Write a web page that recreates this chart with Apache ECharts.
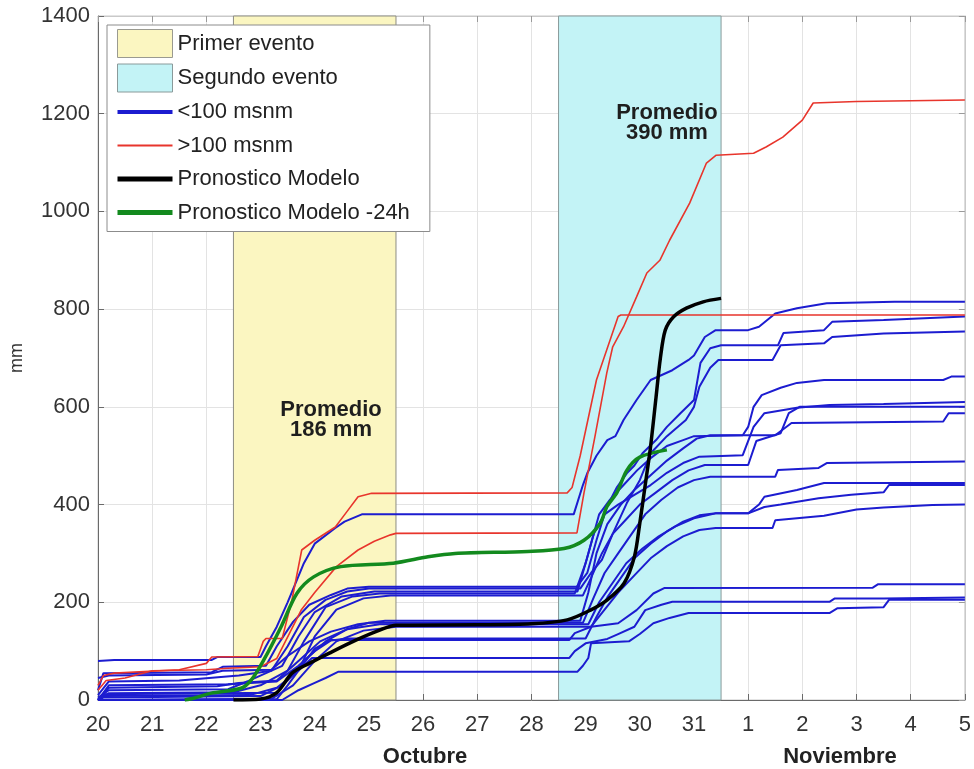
<!DOCTYPE html>
<html>
<head>
<meta charset="utf-8">
<script src="https://cdn.jsdelivr.net/npm/echarts@6/dist/echarts.min.js"></script>
<style>
html,body{margin:0;padding:0;background:#fff;}
#chart{width:974px;height:769px;}
</style>
</head>
<body>
<div id="chart"></div>
<script>
// ---- Data (x = days since 20 Oct 00:00, y = accumulated mm) ----
const dayLabels = ['20','21','22','23','24','25','26','27','28','29','30','31','1','2','3','4','5'];
const monthLabels = ['Octubre', 'Noviembre'];
const evento1 = [2.5, 5.5];
const evento2 = [8.5, 11.5];
const promedio1 = {text: 'Promedio\n186 mm', x: 4.3, y: 573};
const promedio2 = {text: 'Promedio\n390 mm', x: 10.5, y: 1181};

const blue01 = [[0,80],[0.3,82],[2.1,82],[2.2,88],[3.0,88],[3.1,110],[3.3,150],[3.5,200],[3.8,280],[4.0,320],[4.38,352],[4.55,365],[4.87,380],[8.78,380],[8.95,440],[9.03,464],[9.2,500],[9.4,532],[9.55,540],[9.7,573],[9.94,614],[10.2,655],[10.6,675],[10.9,696],[11.0,705],[11.2,743],[11.4,757],[12.0,757],[12.2,764],[12.5,791],[12.9,802],[13.45,812],[14.7,815],[16,815]];
const blue02 = [[0,20],[0.1,55],[2.1,57],[2.3,68],[3.1,70],[3.3,110],[3.6,160],[3.9,195],[4.3,215],[4.6,228],[5.0,232],[8.84,232],[9.03,260],[9.2,327],[9.39,395],[9.58,436],[9.76,464],[9.9,480],[10.05,505],[10.3,532],[10.5,559],[10.75,587],[11.0,614],[11.12,690],[11.3,720],[11.5,726],[12.55,726],[12.65,751],[13.4,757],[13.55,774],[14.5,778],[16,785]];
const blue03 = [[0,10],[0.2,38],[1.5,40],[2.6,50],[3.2,60],[3.5,110],[3.8,170],[4.2,205],[4.6,222],[5.0,228],[8.9,228],[9.1,260],[9.3,287],[9.5,340],[9.76,403],[10.0,450],[10.2,505],[10.5,540],[10.85,573],[11.0,600],[11.1,641],[11.3,680],[11.45,696],[12.45,696],[12.6,726],[13.4,730],[13.55,743],[14.5,750],[16,754]];
const blue04 = [[0,5],[0.2,20],[2.4,22],[2.8,40],[3.4,70],[3.7,130],[4.0,180],[4.5,212],[5.1,222],[8.85,222],[9.05,300],[9.25,380],[9.45,410],[9.7,440],[9.95,470],[10.2,495],[10.5,520],[10.8,532],[11.0,540],[11.9,542],[12.0,559],[12.1,600],[12.25,624],[12.6,639],[12.9,649],[13.4,655],[15.6,655],[15.75,662],[16,662]];
const blue05 = [[0,45],[0.2,50],[2.0,52],[2.3,60],[3.2,62],[3.5,90],[3.9,120],[4.3,140],[4.8,155],[5.3,162],[8.9,162],[9.05,220],[9.2,300],[9.4,360],[9.65,400],[9.9,430],[10.2,460],[10.5,490],[10.8,515],[11.05,535],[11.3,542],[12.5,542],[12.8,567],[15.6,570],[15.7,587],[16,587]];
const blue06 = [[0,0],[0.2,14],[2.5,16],[3.0,30],[3.5,60],[3.8,120],[4.2,190],[4.7,212],[5.2,218],[8.8,218],[9.0,280],[9.15,340],[9.35,380],[9.6,400],[9.9,420],[10.2,440],[10.5,465],[10.8,485],[11.1,498],[11.9,501],[12.1,559],[12.3,587],[12.9,598],[13.5,604],[14.5,606],[16,610]];
const blue07 = [[0,0],[0.1,8],[2.8,10],[3.3,25],[3.7,60],[4.0,130],[4.4,185],[4.9,208],[5.4,214],[8.95,214],[9.1,250],[9.3,300],[9.5,340],[9.75,370],[10.0,400],[10.3,425],[10.6,450],[10.9,470],[11.2,481],[12.0,481],[12.15,530],[12.6,546],[12.75,587],[12.95,600],[16,600]];
const blue08 = [[0,0],[0.1,5],[3.0,8],[3.4,30],[3.8,80],[4.2,120],[4.6,145],[5.0,158],[8.95,158],[9.15,210],[9.35,260],[9.6,300],[9.85,340],[10.1,380],[10.4,410],[10.7,435],[11.0,450],[11.3,457],[12.5,457],[12.55,471],[13.3,475],[13.45,485],[16,488]];
const blue09 = [[0,0],[0.2,30],[2.4,32],[3.3,38],[3.7,70],[4.0,100],[4.3,122],[4.6,126],[9.0,126],[9.2,170],[9.4,210],[9.65,250],[9.9,290],[10.2,320],[10.5,345],[10.8,365],[11.1,378],[11.4,382],[12.0,382],[12.2,400],[12.3,416],[12.9,430],[13.4,444],[16,444]];
const blue10 = [[0,0],[0.2,25],[2.2,28],[2.6,35],[3.3,40],[3.7,80],[4.1,120],[4.6,145],[5.2,155],[9.05,155],[9.25,200],[9.5,240],[9.75,280],[10.05,310],[10.35,335],[10.65,355],[11.0,372],[11.4,382],[12.0,382],[12.3,395],[12.6,400],[13.3,413],[13.9,420],[14.5,425],[14.6,440],[16,440]];
const blue11 = [[0,0],[3.2,2],[3.6,30],[4.0,80],[4.4,120],[4.9,142],[5.5,150],[9.1,150],[9.35,185],[9.6,220],[9.9,255],[10.2,290],[10.5,315],[10.8,335],[11.1,348],[11.4,352],[12.45,352],[12.5,368],[13.4,377],[14.0,390],[14.5,394],[15.4,399],[16,400]];
const blue12 = [[0,2],[0.1,12],[3.3,15],[3.5,40],[3.8,75],[4.0,105],[4.3,123],[8.7,123],[8.8,137],[9.1,150],[9.6,157],[9.94,184],[10.25,218],[10.45,229],[14.3,230],[14.4,237],[16,237]];
const blue13 = [[0,0],[3.3,2],[3.5,30],[3.7,60],[3.95,86],[8.7,86],[8.8,100],[9.0,116],[9.4,125],[9.6,135],[9.9,150],[10.1,184],[10.4,195],[10.6,201],[13.5,201],[13.6,208],[14.5,208],[16,210]];
const blue14 = [[0,0],[3.4,0],[3.7,20],[4.0,35],[4.2,45],[4.44,58],[8.85,58],[8.95,70],[9.05,86],[9.1,116],[9.8,120],[10.0,135],[10.25,157],[10.55,168],[10.9,178],[13.5,178],[13.65,188],[14.5,190],[14.6,205],[16,205]];

const redA = [[0,30],[0.1,50],[0.3,55],[1.5,62],[2.0,75],[2.1,88],[2.95,89],[3.05,120],[3.1,126],[3.4,126],[3.58,205],[3.76,307],[4.0,327],[4.38,354],[4.57,382],[4.8,416],[5.05,423],[8.66,424],[8.75,435],[8.9,500],[9.2,655],[9.4,720],[9.6,785],[9.65,788],[16,788]];
const redB = [[0,20],[0.15,40],[0.5,45],[1.0,60],[2.0,62],[2.4,65],[3.0,68],[3.3,85],[3.55,140],[3.75,184],[4.0,220],[4.4,273],[4.8,307],[5.1,325],[5.4,338],[5.5,341],[8.84,342],[8.97,424],[9.17,538],[9.39,669],[9.5,723],[9.7,764],[9.94,825],[10.13,874],[10.37,900],[10.55,941],[10.92,1017],[11.23,1099],[11.41,1115],[12.1,1119],[12.33,1132],[12.64,1152],[13.0,1187],[13.2,1222],[14.0,1225],[16,1228]];
const modelo = [[2.5,0],[3.0,2],[3.3,15],[3.58,55],[3.9,75],[4.27,96],[4.77,123],[5.2,143],[5.5,153],[7.0,154],[8.0,156],[8.66,164],[9.09,184],[9.4,205],[9.71,239],[9.9,293],[10.0,362],[10.1,440],[10.2,520],[10.3,620],[10.38,700],[10.47,757],[10.62,784],[10.86,802],[11.17,815],[11.5,822]];
const modelo24 = [[1.6,0],[1.78,4],[2.09,14],[2.64,24],[2.83,41],[3.06,82],[3.38,150],[3.67,218],[3.98,252],[4.48,273],[5.45,280],[6.09,293],[6.59,300],[7.93,304],[8.6,310],[8.97,327],[9.27,362],[9.39,395],[9.58,425],[9.76,470],[10.0,497],[10.5,512]];

const blueLines = [blue01,blue02,blue03,blue04,blue05,blue06,blue07,blue08,blue09,blue10,blue11,blue12,blue13,blue14];
const redLines = [redA, redB];

// ---- Styles ----
const FONT = '"Liberation Sans", Arial, Helvetica, sans-serif';
const C_BLUE = '#1c1cd0', C_RED = '#e8352c', C_BLACK = '#000000', C_GREEN = '#138a1e';
const C_YEL = '#fbf6c1', C_CYA = '#c3f3f6';

// legend line icon: horizontal bar of given thickness inside a 55x28 box
function barIcon(h) {
  const a = (14 - h / 2).toFixed(2), b = (14 + h / 2).toFixed(2);
  return 'path://M0,0L0.01,0L0.01,0.01Z M0,' + a + 'L55,' + a + 'L55,' + b + 'L0,' + b + 'Z M54.99,28L55,28L55,27.99Z';
}

const chart = echarts.init(document.getElementById('chart'), null, {renderer: 'canvas'});

const series = [];
series.push({
  name: 'Primer evento', type: 'line', data: [], symbol: 'none',
  markArea: {silent: true, itemStyle: {color: C_YEL, borderColor: '#8d8d84', borderWidth: 1},
    data: [[{xAxis: evento1[0]}, {xAxis: evento1[1]}]]},
  markPoint: {silent: true, symbol: 'rect', symbolSize: 1, itemStyle: {color: 'rgba(0,0,0,0)'},
    label: {show: true, position: 'inside', formatter: promedio1.text, fontFamily: FONT, fontSize: 22, fontWeight: 'bold', color: '#1e1e1e', lineHeight: 20, align: 'center'},
    data: [{coord: [promedio1.x, promedio1.y]}]}
});
series.push({
  name: 'Segundo evento', type: 'line', data: [], symbol: 'none',
  markArea: {silent: true, itemStyle: {color: C_CYA, borderColor: '#8a9a9a', borderWidth: 1},
    data: [[{xAxis: evento2[0]}, {xAxis: evento2[1]}]]},
  markPoint: {silent: true, symbol: 'rect', symbolSize: 1, itemStyle: {color: 'rgba(0,0,0,0)'},
    label: {show: true, position: 'inside', formatter: promedio2.text, fontFamily: FONT, fontSize: 22, fontWeight: 'bold', color: '#1e1e1e', lineHeight: 20, align: 'center'},
    data: [{coord: [promedio2.x, promedio2.y]}]}
});
blueLines.forEach(d => series.push({name: '<100 msnm', type: 'line', data: d, symbol: 'none', showSymbol: false, color: C_BLUE,
  lineStyle: {color: C_BLUE, width: 2}, z: 3}));
redLines.forEach(d => series.push({name: '>100 msnm', type: 'line', data: d, symbol: 'none', showSymbol: false, color: C_RED,
  lineStyle: {color: C_RED, width: 1.6}, z: 4}));
series.push({name: 'Pronostico Modelo -24h', type: 'line', data: modelo24, symbol: 'none', showSymbol: false, color: C_GREEN, smooth: 0.3,
  lineStyle: {color: C_GREEN, width: 3.5}, z: 5});
series.push({name: 'Pronostico Modelo', type: 'line', data: modelo, symbol: 'none', showSymbol: false, color: C_BLACK, smooth: 0.3,
  lineStyle: {color: C_BLACK, width: 3.5}, z: 6});

const option = {
  animation: false,
  backgroundColor: '#ffffff',
  grid: {left: 98, right: 3, top: 16, bottom: 69, show: true, borderColor: '#c9c9c9', borderWidth: 1, backgroundColor: '#fff'},
  xAxis: [{
    type: 'value', min: 0, max: 16, interval: 1,
    axisLine: {show: true, onZero: false, lineStyle: {color: '#6a6a6a', width: 1}},
    axisTick: {show: true, inside: true, length: 6, lineStyle: {color: '#6a6a6a'}},
    axisLabel: {formatter: v => dayLabels[Math.round(v)], fontFamily: FONT, fontSize: 22, color: '#333', margin: 14},
    splitLine: {show: true, lineStyle: {color: '#e3e3e3', width: 1}}
  }, {
    type: 'value', position: 'top', min: 0, max: 16, interval: 1,
    axisLine: {show: true, onZero: false, lineStyle: {color: '#c9c9c9'}},
    axisTick: {show: true, inside: true, length: 6, lineStyle: {color: '#9a9a9a'}},
    axisLabel: {show: false}, splitLine: {show: false}
  }],
  yAxis: [{
    type: 'value', min: 0, max: 1400, interval: 200,
    name: 'mm', nameLocation: 'middle', nameGap: 72, nameRotate: 90,
    nameTextStyle: {fontFamily: FONT, fontSize: 18, color: '#333'},
    axisLine: {show: true, onZero: false, lineStyle: {color: '#6a6a6a', width: 1}},
    axisTick: {show: true, inside: true, length: 6, lineStyle: {color: '#6a6a6a'}},
    axisLabel: {formatter: v => String(v), fontFamily: FONT, fontSize: 22, color: '#333', margin: 8},
    splitLine: {show: true, lineStyle: {color: '#e3e3e3', width: 1}}
  }, {
    type: 'value', position: 'right', min: 0, max: 1400, interval: 200,
    axisLine: {show: true, onZero: false, lineStyle: {color: '#c9c9c9'}},
    axisTick: {show: true, inside: true, length: 6, lineStyle: {color: '#9a9a9a'}},
    axisLabel: {show: false}, splitLine: {show: false}
  }],
  legend: {
    orient: 'vertical', left: 107, top: 25,
    padding: [4, 20, 5, 10],
    itemWidth: 55, itemHeight: 28, itemGap: 5.5,
    backgroundColor: '#ffffff', borderColor: '#8c8c8c', borderWidth: 1,
    selectedMode: false,
    textStyle: {fontFamily: FONT, fontSize: 22, color: '#222'},
    data: [
      {name: 'Primer evento', icon: 'rect', itemStyle: {color: C_YEL, borderColor: '#9a9a90', borderWidth: 1}},
      {name: 'Segundo evento', icon: 'rect', itemStyle: {color: C_CYA, borderColor: '#8a9a9a', borderWidth: 1}},
      {name: '<100 msnm', icon: barIcon(4), itemStyle: {color: C_BLUE, borderWidth: 0}},
      {name: '>100 msnm', icon: barIcon(2), itemStyle: {color: C_RED, borderWidth: 0}},
      {name: 'Pronostico Modelo', icon: barIcon(5), itemStyle: {color: C_BLACK, borderWidth: 0}},
      {name: 'Pronostico Modelo -24h', icon: barIcon(5), itemStyle: {color: C_GREEN, borderWidth: 0}}
    ],
    z: 20
  },
  graphic: [
    {type: 'text', x: 425, y: 757, z: 10, style: {text: monthLabels[0], fontFamily: FONT, fontSize: 22, fontWeight: 'bold', fill: '#222', align: 'center', verticalAlign: 'middle'}},
    {type: 'text', x: 840, y: 757, z: 10, style: {text: monthLabels[1], fontFamily: FONT, fontSize: 22, fontWeight: 'bold', fill: '#222', align: 'center', verticalAlign: 'middle'}}
  ],
  series: series
};
chart.setOption(option);
</script>
</body>
</html>
